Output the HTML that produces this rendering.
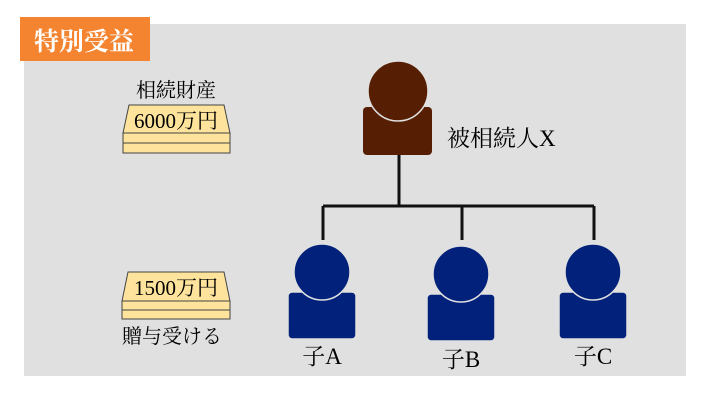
<!DOCTYPE html>
<html><head><meta charset="utf-8"><style>
body{margin:0;width:710px;height:400px;background:#fff;overflow:hidden}
</style></head><body>
<svg width="710" height="400" xmlns="http://www.w3.org/2000/svg" font-family="Liberation Serif, Noto Serif CJK SC, serif">
<rect x="24" y="24" width="662" height="352" fill="#e0e0e0"/>
<rect x="20" y="17" width="130" height="44" fill="#f58430"/>
<text x="84" y="50" font-size="25" fill="#fff" text-anchor="middle" font-weight="bold">特別受益</text>
<text x="176" y="97" font-size="20" text-anchor="middle">相続財産</text>
<g stroke="#444" stroke-width="1" fill="#fde39b">
<rect x="123" y="133" width="107" height="10"/><rect x="123" y="143" width="107" height="10"/>
<polygon points="129,105 224,105 230,133 123,133"/>
<rect x="122" y="301" width="108" height="9"/><rect x="122" y="310" width="108" height="9"/>
<polygon points="128,272 224,272 230,301 122,301"/>
</g>
<text x="176" y="128" font-size="21" text-anchor="middle">6000万円</text>
<text x="176" y="295" font-size="21" text-anchor="middle">1500万円</text>
<text x="172" y="343" font-size="20" text-anchor="middle">贈与受ける</text>
<g stroke="#111" stroke-width="3" fill="none">
<line x1="399" y1="155" x2="399" y2="206"/>
<line x1="323" y1="206" x2="594" y2="206"/>
<line x1="323" y1="206" x2="323" y2="240"/>
<line x1="462" y1="206" x2="462" y2="240"/>
<line x1="594" y1="206" x2="594" y2="240"/>
</g>
<rect x="363" y="107" width="69" height="48" rx="4" fill="#561e02"/>
<circle cx="398" cy="91" r="30" fill="#561e02" stroke="#e0e0e0" stroke-width="1.5"/>
<text x="447" y="146" font-size="23">被相続人X</text>
<g fill="#02217a" stroke="#e0e0e0" stroke-width="1.5">
<rect x="288" y="292" width="68" height="47" rx="4"/><circle cx="322" cy="272" r="28"/>
<rect x="427" y="294" width="68" height="47" rx="4"/><circle cx="461" cy="274" r="28"/>
<rect x="559" y="292" width="68" height="47" rx="4"/><circle cx="593" cy="272" r="28"/>
</g>
<text x="322" y="364" font-size="23" text-anchor="middle">子A</text>
<text x="461" y="367" font-size="23" text-anchor="middle">子B</text>
<text x="593" y="364" font-size="23" text-anchor="middle">子C</text>
</svg>
</body></html>
